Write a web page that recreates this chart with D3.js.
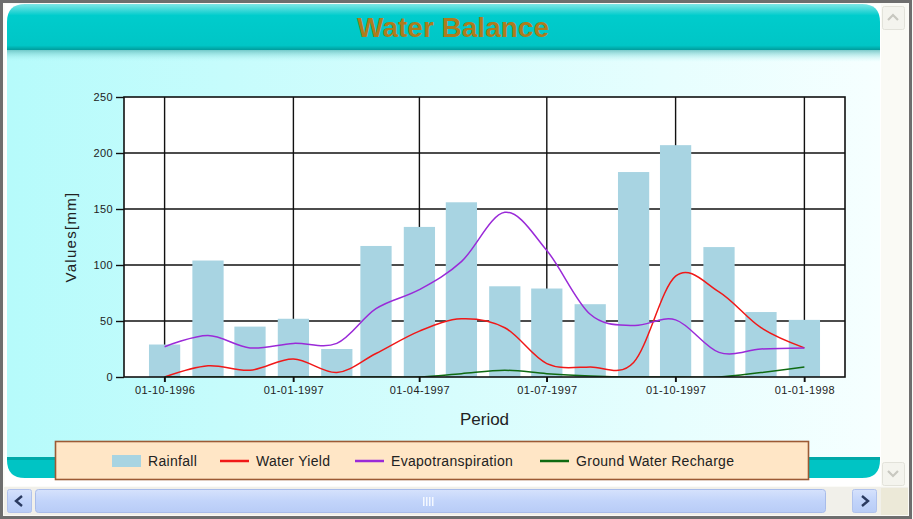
<!DOCTYPE html>
<html>
<head>
<meta charset="utf-8">
<script src="https://cdnjs.cloudflare.com/ajax/libs/d3/7.8.5/d3.min.js"></script>
<style>
  body { margin: 0; background: #fff; }
  svg { display: block; }
</style>
</head>
<body>
<div id="grafico"></div>
<script>
// Datos (mensuales)
var months = ["1996-10-01","1996-11-01","1996-12-01","1997-01-01","1997-02-01","1997-03-01",
              "1997-04-01","1997-05-01","1997-06-01","1997-07-01","1997-08-01","1997-09-01",
              "1997-10-01","1997-11-01","1997-12-01","1998-01-01"];
var rainfall = [29, 104, 45, 52, 25, 117, 134, 156, 81, 79, 65, 183, 207, 116, 58, 51];
var waterYield = [0, 10, 6, 16, 4, 21, 41, 52, 44, 12, 9, 13, 90, 76, 44, 26];
var evapotranspiration = [27, 37, 26, 30, 30, 61, 78, 103, 147, 113, 56, 46, 51, 22, 25, 26];
var recharge = [0, 0, 0, 0, 0, 0, 0, 3, 6, 3, 1, 0, 0, 0, 4, 9];
var xTicks = ["1996-10-01","1997-01-01","1997-04-01","1997-07-01","1997-10-01","1998-01-01"];
var yTicks = [0, 50, 100, 150, 200, 250];
var legendNames = ["Rainfall", "Water Yield", "Evapotranspiration", "Ground Water Recharge"];

var W = 913, H = 519;
var plot = {left: 124, right: 845, top: 97, bottom: 377};

var parseTime = d3.timeParse("%Y-%m-%d");
var dates = months.map(parseTime);

var svg = d3.select("#grafico").append("svg")
  .attr("width", W).attr("height", H)
  .style("font-family", "'Liberation Sans', Arial, sans-serif");

var defs = svg.append("defs");
var gBody = defs.append("linearGradient").attr("id", "body").attr("x1", 0).attr("x2", 1).attr("y1", 0).attr("y2", 0);
gBody.append("stop").attr("offset", 0).attr("stop-color", "#b6fbfb");
gBody.append("stop").attr("offset", 1).attr("stop-color", "#f6ffff");
var gHead = defs.append("linearGradient").attr("id", "head").attr("x1", 0).attr("x2", 0).attr("y1", 0).attr("y2", 1);
gHead.append("stop").attr("offset", 0).attr("stop-color", "#7fe6e6");
gHead.append("stop").attr("offset", 0.25).attr("stop-color", "#00cccc");
gHead.append("stop").attr("offset", 0.9).attr("stop-color", "#00c6c6");
gHead.append("stop").attr("offset", 1).attr("stop-color", "#009c9c");
var gShadow = defs.append("linearGradient").attr("id", "shadow").attr("x1", 0).attr("x2", 0).attr("y1", 0).attr("y2", 1);
gShadow.append("stop").attr("offset", 0).attr("stop-color", "#5fbcbc").attr("stop-opacity", 0.8);
gShadow.append("stop").attr("offset", 1).attr("stop-color", "#b6fbfb").attr("stop-opacity", 0);
var gThumb = defs.append("linearGradient").attr("id", "thumb").attr("x1", 0).attr("x2", 0).attr("y1", 0).attr("y2", 1);
gThumb.append("stop").attr("offset", 0).attr("stop-color", "#d6e2fc");
gThumb.append("stop").attr("offset", 0.5).attr("stop-color", "#c2d4fa");
gThumb.append("stop").attr("offset", 1).attr("stop-color", "#b8ccf6");
defs.append("clipPath").attr("id", "clipPlot").append("rect")
  .attr("x", plot.left).attr("y", plot.top)
  .attr("width", plot.right - plot.left).attr("height", plot.bottom - plot.top);

// Fondo y marco de la ventana
svg.append("rect").attr("width", W).attr("height", H).attr("fill", "#fbfbf7");
svg.append("rect").attr("x", 5).attr("y", 4).attr("width", 876).attr("height", 482).attr("fill", "#ffffff");
svg.append("rect").attr("x", 7).attr("y", 48).attr("width", 873).attr("height", 414).attr("fill", "url(#body)");
svg.append("rect").attr("x", 7).attr("y", 50).attr("width", 873).attr("height", 12).attr("fill", "url(#shadow)");

// Cabecera redondeada
function roundTop(x, y, w, h, r) {
  return "M" + x + "," + (y + h) + "V" + (y + r) + "Q" + x + "," + y + " " + (x + r) + "," + y +
    "H" + (x + w - r) + "Q" + (x + w) + "," + y + " " + (x + w) + "," + (y + r) + "V" + (y + h) + "Z";
}
function roundBottom(x, y, w, h, r) {
  return "M" + x + "," + y + "V" + (y + h - r) + "Q" + x + "," + (y + h) + " " + (x + r) + "," + (y + h) +
    "H" + (x + w - r) + "Q" + (x + w) + "," + (y + h) + " " + (x + w) + "," + (y + h - r) + "V" + y + "Z";
}
svg.append("path").attr("d", roundTop(7, 4, 873, 46, 18)).attr("fill", "url(#head)");
svg.append("path").attr("d", roundBottom(7, 457, 873, 21, 18)).attr("fill", "#00c4c4");
svg.append("rect").attr("x", 7).attr("y", 457).attr("width", 873).attr("height", 3).attr("fill", "#00a8a8");

svg.append("text")
  .attr("x", 453).attr("y", 37)
  .attr("text-anchor", "middle")
  .style("font-family", "'Liberation Sans Narrow', 'Arial Narrow', 'Liberation Sans', sans-serif")
  .style("font-size", "28px")
  .style("font-weight", "bold")
  .style("fill", "#ae7c1c")
  .text("Water Balance");

// Escalas
var x = d3.scaleTime()
  .domain([d3.timeDay.offset(dates[0], -29), d3.timeDay.offset(dates[dates.length - 1], 29)])
  .range([plot.left, plot.right]);
var y = d3.scaleLinear().domain([0, 250]).range([plot.bottom, plot.top]);

svg.append("rect").attr("x", plot.left).attr("y", plot.top)
  .attr("width", plot.right - plot.left).attr("height", plot.bottom - plot.top)
  .attr("fill", "#ffffff");

// Rejilla
svg.append("g").selectAll("line").data(yTicks.slice(1, -1)).enter().append("line")
  .attr("x1", plot.left).attr("x2", plot.right)
  .attr("y1", function(d) { return y(d); }).attr("y2", function(d) { return y(d); })
  .attr("stroke", "#111").attr("stroke-width", 1.4);
svg.append("g").selectAll("line").data(xTicks.map(parseTime)).enter().append("line")
  .attr("x1", function(d) { return x(d); }).attr("x2", function(d) { return x(d); })
  .attr("y1", plot.top).attr("y2", plot.bottom + 5)
  .attr("stroke", "#111").attr("stroke-width", 1.4);

// Barras de lluvia
var barW = (x(dates[1]) - x(dates[0])) * 0.72;
svg.append("g").selectAll("rect").data(rainfall).enter().append("rect")
  .attr("x", function(d, i) { return x(dates[i]) - barW / 2; })
  .attr("y", function(d) { return y(d); })
  .attr("width", barW)
  .attr("height", function(d) { return y(0) - y(d); })
  .attr("fill", "#a8d4e2");

// Lineas suavizadas
var series = [
  {values: waterYield, color: "#f01818"},
  {values: evapotranspiration, color: "#9a2ad8"},
  {values: recharge, color: "#0f6a12"}
];
var linea = d3.line()
  .x(function(d, i) { return x(dates[i]); })
  .y(function(d) { return y(d); })
  .curve(d3.curveCardinal.tension(0));
var gLines = svg.append("g").attr("clip-path", "url(#clipPlot)");
series.forEach(function(s) {
  gLines.append("path").datum(s.values)
    .attr("d", linea)
    .attr("fill", "none")
    .attr("stroke", s.color)
    .attr("stroke-width", 1.5);
});

// Marco y ejes
svg.append("rect").attr("x", plot.left).attr("y", plot.top)
  .attr("width", plot.right - plot.left).attr("height", plot.bottom - plot.top)
  .attr("fill", "none").attr("stroke", "#111").attr("stroke-width", 1.6);

var yAxis = svg.append("g").attr("transform", "translate(" + plot.left + ",0)")
  .call(d3.axisLeft(y).tickValues(yTicks).tickSize(8).tickPadding(3));
var xAxis = svg.append("g").attr("transform", "translate(0," + plot.bottom + ")")
  .call(d3.axisBottom(x).tickValues(xTicks.map(parseTime)).tickSize(5).tickPadding(4)
    .tickFormat(d3.timeFormat("%d-%m-%Y")));
[yAxis, xAxis].forEach(function(a) {
  a.select(".domain").remove();
  a.selectAll("line").attr("stroke", "#111").attr("stroke-width", 1.4);
  a.selectAll("text").style("font-family", "'Liberation Sans', Arial, sans-serif")
    .style("font-size", "11px").style("letter-spacing", "0.4px").attr("fill", "#222");
});

svg.append("text")
  .attr("transform", "translate(76," + ((plot.top + plot.bottom) / 2) + ") rotate(-90)")
  .attr("text-anchor", "middle")
  .style("font-size", "15px").style("letter-spacing", "1.3px").style("fill", "#222")
  .text("Values[mm]");
svg.append("text")
  .attr("x", (plot.left + plot.right) / 2).attr("y", 425)
  .attr("text-anchor", "middle")
  .style("font-size", "17px").style("fill", "#222")
  .text("Period");

// Leyenda
svg.append("rect").attr("x", 55.5).attr("y", 441.5).attr("width", 753).attr("height", 38)
  .attr("fill", "#ffe6c6").attr("stroke", "#9c5a34").attr("stroke-width", 1.6);
var legX = [112, 220, 355, 540];
var leg = svg.append("g").selectAll("g").data(legendNames).enter().append("g")
  .attr("transform", function(d, i) { return "translate(" + legX[i] + ",461)"; });
leg.each(function(d, i) {
  var g = d3.select(this);
  if (i === 0) {
    g.append("rect").attr("x", 0).attr("y", -6).attr("width", 29).attr("height", 12).attr("fill", "#a8d4e2");
  } else {
    g.append("line").attr("x1", 0).attr("x2", 29).attr("y1", 0).attr("y2", 0)
      .attr("stroke", series[i - 1].color).attr("stroke-width", 2.5);
  }
  g.append("text").attr("x", 36).attr("y", 5)
    .style("font-size", "14px").style("letter-spacing", "0.3px").style("fill", "#222").text(d);
});

// Barras de desplazamiento
svg.append("rect").attr("x", 881).attr("y", 4).attr("width", 26).attr("height", 484).attr("fill", "#fafaf5");
[[882, 6, "M888,20 L893,15 L898,20"], [882, 462, "M888,471 L893,476 L898,471"]].forEach(function(b) {
  svg.append("rect").attr("x", b[0] + 0.5).attr("y", b[1] + 0.5).attr("width", 22).attr("height", 23).attr("rx", 2)
    .attr("fill", "#f4f4ee").attr("stroke", "#e2e2da");
  svg.append("path").attr("d", b[2]).attr("fill", "none").attr("stroke", "#c8c8c0").attr("stroke-width", 2.2);
});
svg.append("rect").attr("x", 4).attr("y", 487).attr("width", 904).attr("height", 28).attr("fill", "#f1f0ea");
svg.append("rect").attr("x", 881).attr("y", 488).attr("width", 27).attr("height", 27).attr("fill", "#ece9d8");
[[7, "M22,496 L16,501 L22,506"], [852, "M862,496 L868,501 L862,506"]].forEach(function(b) {
  svg.append("rect").attr("x", b[0] + 0.5).attr("y", 489.5).attr("width", 24).attr("height", 23).attr("rx", 2)
    .attr("fill", "url(#thumb)").attr("stroke", "#b0c2ec");
  svg.append("path").attr("d", b[1]).attr("fill", "none").attr("stroke", "#2a3a60").attr("stroke-width", 2.4);
});
svg.append("rect").attr("x", 35.5).attr("y", 489.5).attr("width", 790).attr("height", 23).attr("rx", 3)
  .attr("fill", "url(#thumb)").attr("stroke", "#a8bcea");
[0, 1, 2, 3].forEach(function(k) {
  svg.append("rect").attr("x", 423 + k * 3).attr("y", 497).attr("width", 1.5).attr("height", 9).attr("fill", "#f4f8ff");
});

// Borde exterior
svg.append("rect").attr("x", 1.5).attr("y", 1.5).attr("width", W - 4).attr("height", H - 3)
  .attr("fill", "none").attr("stroke", "#6e6e6e").attr("stroke-width", 3);
</script>
</body>
</html>
